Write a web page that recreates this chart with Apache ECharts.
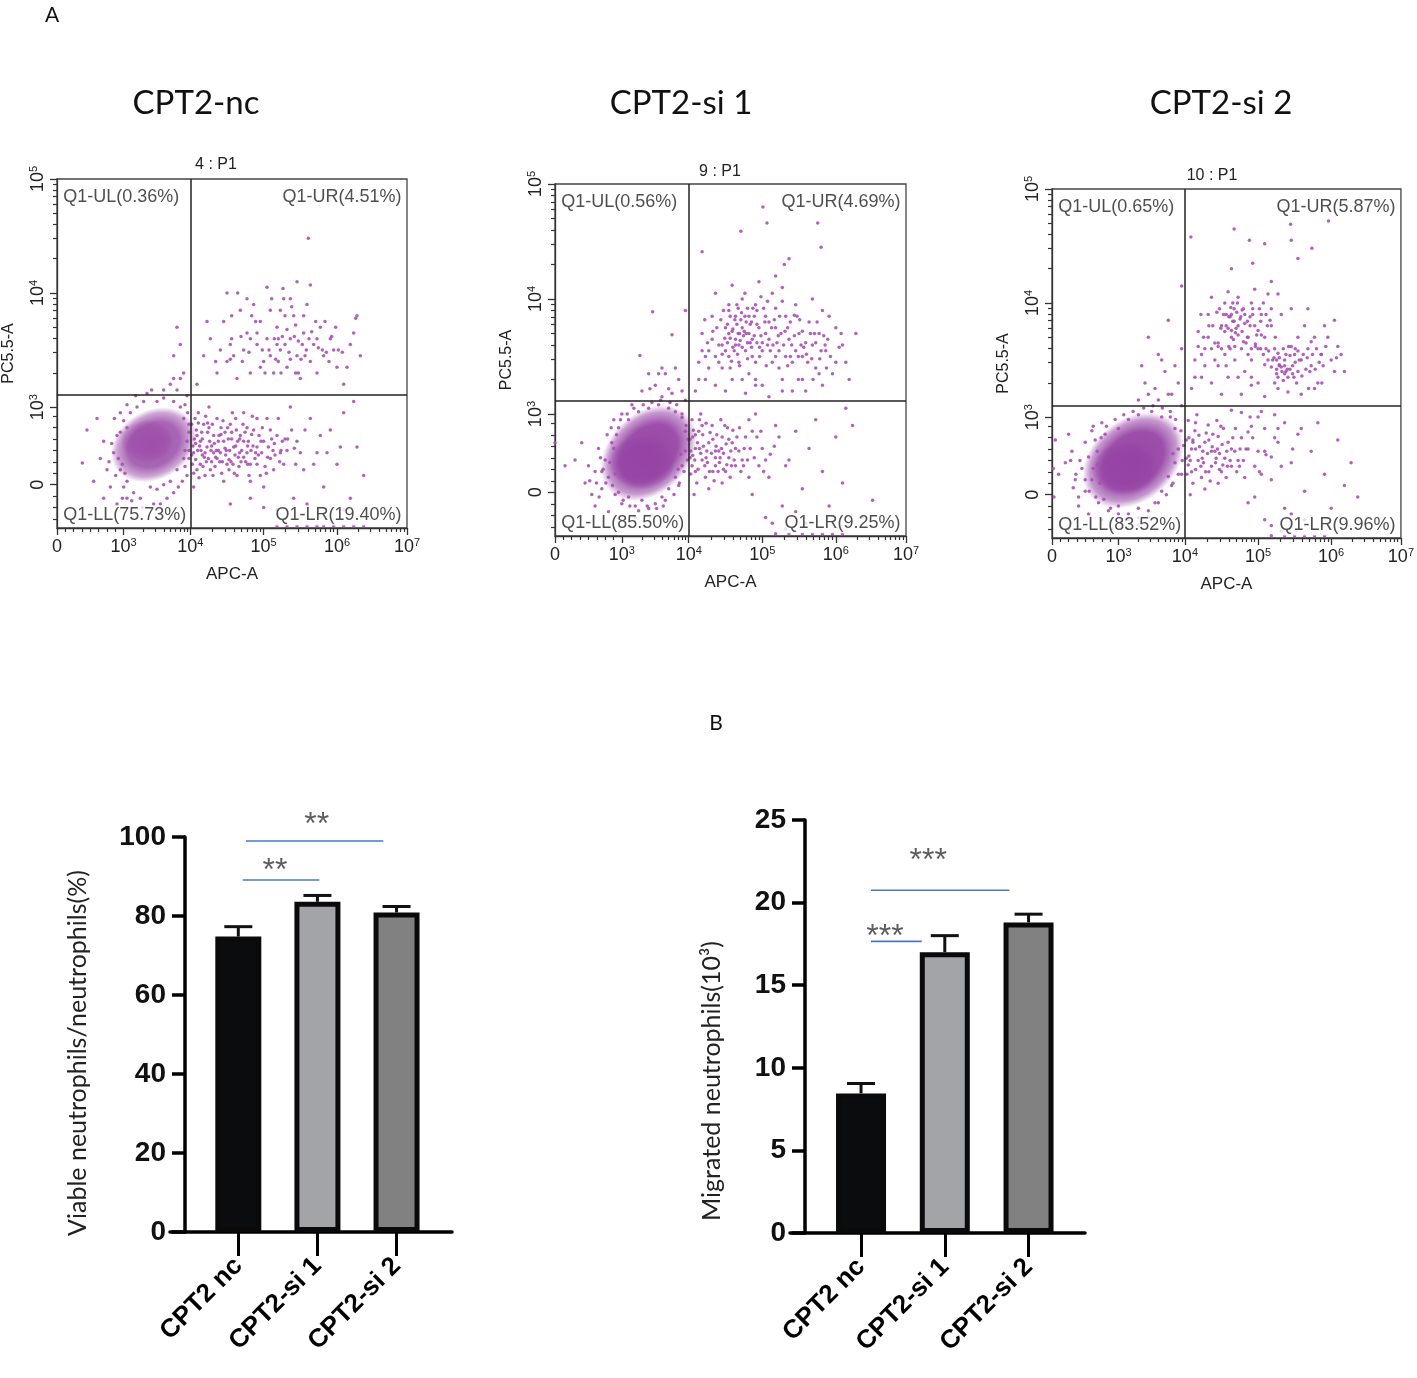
<!DOCTYPE html>
<html><head><meta charset="utf-8">
<script src="https://cdn.jsdelivr.net/npm/echarts@6/dist/echarts.min.js"></script>
<style>html,body{margin:0;padding:0;background:#fff}#c{width:1417px;height:1378px}</style>
</head><body><div id="c"></div>
<script>
// ---------- Panel A : flow cytometry (display units: x 2=0, 3=10^3, 4=10^4, 5.1=10^5, 6.2=10^6, 7.25=10^7 ; y 2.32=0, 3=10^3, 4=10^4, 5=10^5)
const panelTitles = ['CPT2-nc', 'CPT2-si 1', 'CPT2-si 2'];
const gateTitles = ['4 : P1', '9 : P1', '10 : P1'];
const quadTexts = [
  ['Q1-UL(0.36%)', 'Q1-UR(4.51%)', 'Q1-LL(75.73%)', 'Q1-LR(19.40%)'],
  ['Q1-UL(0.56%)', 'Q1-UR(4.69%)', 'Q1-LL(85.50%)', 'Q1-LR(9.25%)'],
  ['Q1-UL(0.65%)', 'Q1-UR(5.87%)', 'Q1-LL(83.52%)', 'Q1-LR(9.96%)']
];
const quadX = [4.0, 4.0, 4.0];
const quadY = [3.11, 3.12, 3.10];
const xMajorVals = [2, 3, 4, 5.1, 6.2, 7.25];
const xMajorLabels = ['0', '10{s|3}', '10{s|4}', '10{s|5}', '10{s|6}', '10{s|7}'];
const yMajorVals = [2.32, 3, 4, 5];
const yMajorLabels = ['0', '10{s|3}', '10{s|4}', '10{s|5}'];

// dense event clouds: [centre x, centre y, half-length, half-width (x units), tilt deg, peak opacity]
const p1Blobs = [[3.45, 2.67, 0.68, 0.52, 30, 0.85], [3.35, 2.7, 0.4, 0.32, 0, 0.45]];
const p2Blobs = [[3.4, 2.66, 0.82, 0.6, 45, 0.97], [3.3, 2.58, 0.5, 0.4, 0, 0.6]];
const p3Blobs = [[3.22, 2.62, 0.85, 0.62, 40, 0.97], [3.1, 2.55, 0.5, 0.4, 0, 0.6]];

const p1Pts = [[2.85,2.6],[2.9,2.75],[2.95,2.45],[3.0,2.88],[2.92,2.55],[3.05,2.35],[3.1,2.95],[3.0,2.3],[3.15,2.25],[3.2,3.0],[3.3,3.05],[3.4,2.3],[3.5,2.28],[3.6,2.32],[3.7,2.35],[3.8,2.45],[3.9,2.55],[3.95,2.7],[3.9,2.9],[3.85,3.0],[3.75,3.05],[3.6,3.08],[3.95,2.4],[4.05,2.6],[4.1,2.75],[4.15,2.5],[4.2,2.85],[4.25,2.65],[4.3,2.45],[4.35,2.75],[4.4,2.9],[4.45,2.6],[4.5,2.7],[4.55,2.5],[4.6,2.85],[4.65,2.65],[4.7,2.4],[4.75,2.75],[4.8,2.95],[4.85,2.6],[4.9,2.5],[4.95,2.8],[5.0,2.65],[5.05,2.4],[5.1,2.7],[5.15,2.9],[5.2,2.55],[5.25,2.45],[5.3,2.75],[5.35,2.6],[4.12,2.95],[4.28,3.0],[4.5,2.35],[4.68,2.9],[4.9,2.35],[5.1,2.3],[5.4,2.5],[4.05,2.3],[4.22,2.4],[4.4,2.55],[4.58,2.45],[4.8,2.7],[5.0,2.9],[4.15,2.7],[4.35,2.6],[4.62,2.72],[4.85,2.82],[5.2,2.8],[3.05,2.2],[3.25,2.2],[3.45,2.15],[3.65,2.2],[2.75,2.45],[2.7,2.7],[2.8,2.3],[3.6,3.15],[3.8,3.15],[3.95,3.1],[4.08,2.68],[4.18,2.58],[4.26,2.78],[4.32,2.52],[4.46,2.82],[4.54,2.62],[4.72,2.56],[4.02,2.85],[4.1,2.45],[3.98,2.55],
[4.1,3.2],[4.2,3.45],[4.3,3.6],[4.4,3.3],[4.5,3.75],[4.55,3.4],[4.6,3.55],[4.7,3.25],[4.75,3.85],[4.8,3.5],[4.85,3.65],[4.9,3.3],[4.95,3.9],[5.0,3.55],[5.05,3.75],[5.1,3.4],[5.15,3.6],[5.2,3.85],[5.25,3.3],[5.3,3.7],[5.35,3.5],[5.4,3.95],[5.45,3.35],[5.5,3.6],[5.55,3.8],[5.6,3.45],[5.65,3.25],[5.7,3.65],[5.75,3.9],[5.8,3.4],[5.85,3.55],[5.9,3.3],[5.95,3.7],[6.0,3.45],[6.1,3.6],[6.2,3.35],[6.3,3.2],[6.4,3.55],[6.5,3.8],[6.55,3.45],[5.15,4.05],[5.6,4.1],[5.77,4.48],[5.8,4.07],[5.39,4.04],[4.71,4.0],[6.48,3.78],[4.55,4.0],[4.85,3.95],[5.5,3.95],[4.25,3.75],[3.85,3.55],[3.9,3.3],[3.75,3.25],[5.3,3.55],[5.45,3.68],[5.62,3.58],
[5.5,3.0],[5.6,2.7],[5.7,2.45],[5.8,2.9],[5.9,2.6],[6.0,2.3],[6.1,2.8],[6.2,2.5],[6.3,2.95],[6.4,2.2],[6.5,2.65],[6.6,2.4],[6.45,3.05],[5.75,2.15],[5.55,2.2],[5.3,2.1],[5.1,2.12],[4.9,2.2],[4.6,2.15],[6.3,2.1],
[5.3,1.96],[5.45,1.96],[5.6,1.96],[5.75,1.96],[5.9,1.96],[6.0,1.96],[6.15,1.96],[6.3,1.96],[6.45,1.96],[6.6,1.96],
[2.65,2.55],[2.55,2.35],[2.45,2.8],[2.38,2.51],[2.6,2.9],[2.7,2.2],[2.9,2.15],[3.75,3.45],[3.8,3.7]];
const p1More = [[4.03,2.5],[4.07,2.9],[4.11,2.62],[4.13,2.38],[4.17,2.78],[4.19,2.48],[4.23,2.92],[4.27,2.55],[4.29,2.7],[4.33,2.85],[4.37,2.48],[4.39,2.62],[4.43,2.75],[4.47,2.42],[4.49,2.88],[4.53,2.58],[4.57,2.72],[4.61,2.52],[4.63,2.95],[4.67,2.58],[4.71,2.7],[4.73,2.48],[4.77,2.62],[4.79,2.85],[4.83,2.52],[4.87,2.7],[4.91,2.62],[4.93,2.92],[4.97,2.55],[5.03,2.75],[5.07,2.6],[5.12,2.48],[5.17,2.65],[5.22,2.72],[5.27,2.58],[5.32,2.9],[5.38,2.7],[5.45,2.62],[5.52,2.8],[5.58,2.5],[4.06,2.72],[4.16,2.62],[4.24,2.52],[4.36,2.68],[4.44,2.52],[4.56,2.82],[4.66,2.42],[4.76,2.52],[4.88,2.4],[5.0,2.5],
[2.88,2.4],[2.82,2.68],[2.95,2.95],[3.05,3.02],[3.12,2.18],[3.28,2.12],[3.55,2.15],[3.75,2.25],[3.88,2.35],[3.98,2.62],[3.98,2.85],[3.92,3.02],[3.5,3.05],[3.35,3.12],[3.7,3.2],[3.85,3.25],[2.98,2.5],[2.95,2.78],[3.92,2.48],[3.96,2.95],[3.02,2.42],[3.05,2.82],
[4.45,3.5],[4.65,3.45],[4.9,3.6],[5.05,3.35],[5.18,3.5],[5.28,3.42],[5.38,3.62],[5.48,3.48],[5.58,3.72],[5.68,3.55],[5.78,3.6],[5.88,3.75],[5.98,3.5],[6.08,3.4],[6.18,3.7],[6.28,3.48],[5.22,3.95],[5.35,3.85],[5.52,3.88],[5.7,3.8],[4.98,3.75],[4.62,3.8]];
const p1Extra = [[4.02,2.58],[4.05,2.42],[4.09,2.8],[4.14,2.66],[4.21,2.56],[4.26,2.86],[4.31,2.62],[4.34,2.4],[4.42,2.7],[4.48,2.52],[4.52,2.78],[4.59,2.62],[4.64,2.5],[4.69,2.8],[4.74,2.6],[4.82,2.78],[4.86,2.5],[4.94,2.66],[5.02,2.58],[5.08,2.82],[5.14,2.42],[5.24,2.62],[5.34,2.52],[5.42,2.72],[5.65,2.6],[5.72,2.8],[5.85,2.5],[5.95,2.75],[6.05,2.6],[6.25,2.65],[4.38,3.4],[4.62,3.6],[4.78,3.4],[4.92,3.8],[5.12,3.3],[5.32,3.6],[5.42,3.8],[5.58,3.3],[5.72,3.45],[5.9,3.6],[6.02,3.75],[6.15,3.5],[6.35,3.35],[6.45,3.65],[2.78,2.52],[2.86,2.9],[2.98,2.2],[3.18,3.1],[3.42,3.15],[3.82,2.3],[3.92,2.62],[3.98,2.78]];
const p1Dense = [[4.04,2.66],[4.08,2.54],[4.12,2.86],[4.18,2.72],[4.22,2.6],[4.28,2.82],[4.32,2.66],[4.38,2.56],[4.42,2.62],[4.46,2.76],[4.52,2.64],[4.58,2.54],[4.62,2.78],[4.68,2.66],[4.74,2.72],[4.8,2.56],[4.86,2.66],[4.92,2.76],[4.98,2.6],[5.06,2.7],[5.16,2.56],[5.26,2.68],[5.36,2.62],[5.46,2.72],[5.56,2.64],
[5.2,3.45],[5.26,3.6],[5.32,3.4],[5.42,3.55],[5.5,3.42],[5.56,3.62],[5.66,3.42],[5.74,3.5],[5.82,3.66],[5.92,3.52],[6.04,3.48],[6.12,3.62],[5.0,3.65],[5.08,3.5],[4.88,3.48],[4.76,3.62],[4.6,3.42],[5.36,3.3],[5.62,3.3],[6.22,3.5]];

const p2Pts = [[2.8,2.45],[2.75,2.6],[2.85,2.75],[2.7,2.35],[2.9,2.3],[3.0,2.22],[3.1,2.28],[3.2,2.2],[3.3,2.25],[3.4,2.18],[3.5,2.22],[3.45,2.12],[3.6,2.28],[3.7,2.35],[3.8,2.45],[3.9,2.55],[3.95,2.68],[3.95,2.85],[3.9,2.97],[3.8,3.02],[3.7,3.05],[3.55,3.08],[3.4,3.05],[3.25,3.02],[3.1,2.95],[2.95,2.88],[3.0,3.0],[2.6,2.5],[2.65,2.7],[2.55,2.3],[2.6,2.2],[2.8,2.15],[3.2,2.1],[3.6,3.15],[3.75,3.18],[3.5,3.25],[3.85,3.3],[3.95,3.12],[3.65,3.35],[3.3,3.2],[2.72,2.52],[2.78,2.82],[3.85,2.38],[3.62,2.2],[2.88,2.95],[3.15,3.08],
[4.05,2.55],[4.1,2.7],[4.15,2.85],[4.2,2.6],[4.25,2.45],[4.3,2.75],[4.35,2.9],[4.4,2.55],[4.45,2.68],[4.5,2.8],[4.55,2.5],[4.6,2.62],[4.65,2.75],[4.05,2.95],[4.12,2.4],[4.28,2.58],[4.38,2.42],[4.48,2.95],[4.58,2.88],[4.7,2.55],[4.75,2.68],[4.18,3.0],[4.08,2.3],[4.3,2.35],[4.5,2.4],[4.02,2.78],[4.22,2.72],[4.42,2.82],[4.62,2.45],[4.8,2.6],[4.85,2.8],[4.9,2.45],[4.06,2.64],[4.14,2.52],[4.2,2.9],[4.34,2.66],[4.44,2.5],[4.52,2.66],[4.66,2.86],[4.1,2.82],
[4.1,3.2],[4.15,3.45],[4.2,3.7],[4.25,3.3],[4.3,3.55],[4.35,3.85],[4.4,3.25],[4.45,3.6],[4.5,3.4],[4.55,3.75],[4.6,3.95],[4.6,3.5],[4.65,3.3],[4.7,3.65],[4.7,3.85],[4.75,3.45],[4.8,3.75],[4.8,4.0],[4.85,3.55],[4.9,3.35],[4.9,3.85],[4.95,3.65],[5.0,3.45],[5.0,3.95],[5.05,3.75],[5.1,3.55],[5.1,3.25],[5.15,3.85],[5.2,3.65],[5.25,3.45],[5.25,4.05],[5.3,3.75],[5.35,3.55],[5.4,3.3],[5.45,3.85],[5.5,3.65],[5.55,3.45],[5.6,3.95],[5.65,3.7],[5.7,3.5],[5.75,3.2],[5.8,3.8],[5.85,3.6],[5.9,3.4],[5.95,3.7],[6.0,3.25],[6.05,3.55],[6.1,3.85],[6.2,3.45],[6.3,3.6],[6.4,3.3],[6.5,3.7],[4.55,3.2],[4.85,3.18],[5.2,3.15],[5.55,3.2],[4.4,4.05],[4.65,4.12],[5.05,4.15],[5.4,4.1],[5.85,4.0],[4.75,3.6],[4.95,3.5],[5.15,3.7],[4.65,3.72],[4.88,3.92],[5.3,3.92],[5.6,3.55],[4.78,3.82],[4.72,3.78],[4.82,3.68],[4.92,3.78],[5.02,3.62],[4.58,3.62],[5.45,3.5],[5.75,3.62],[6.0,3.9],[6.2,3.75],
[5.11,4.8],[5.17,4.66],[5.93,4.66],[5.98,4.45],[4.2,4.41],[4.78,4.59],[5.43,4.3],[5.5,4.35],[5.3,4.2],
[5.0,3.0],[5.1,2.7],[5.2,2.45],[5.3,2.9],[5.4,2.2],[5.5,2.6],[5.6,2.85],[5.7,2.35],[5.8,2.7],[5.9,2.95],[6.0,2.5],[6.1,2.2],[6.2,2.8],[6.3,2.4],[6.6,2.1],[6.75,2.25],[4.95,2.3],[5.15,2.1],[5.25,2.05],[5.45,2.0],[5.6,2.15],[5.75,2.05],[6.35,3.05],[6.45,2.9],[4.9,2.95],[5.05,2.55],
[5.3,1.96],[5.5,1.96],[5.7,1.96],[5.85,1.96],[6.0,1.96],[6.15,1.96],[6.3,1.96],
[2.3,2.6],[2.15,2.55],[2.45,2.4],[2.4,2.75],[2.0,2.75],[3.46,3.89],[3.27,3.51],[3.75,3.69],[3.95,3.9],[3.6,3.4],[3.4,3.35]];
const p2More = [[2.7,2.5],[2.76,2.4],[2.82,2.58],[2.86,2.38],[2.88,2.7],[2.9,2.48],[2.92,2.82],[2.95,2.32],[2.98,2.95],[3.02,2.25],[3.08,3.0],[3.12,2.2],[3.18,3.05],[3.25,2.16],[3.32,3.08],[3.38,2.2],[3.45,3.1],[3.52,2.18],[3.58,3.12],[3.65,2.25],[3.72,3.1],[3.78,2.3],[3.82,3.08],[3.86,2.4],[3.9,3.0],[3.93,2.5],[3.96,2.9],[3.98,2.6],[3.99,2.78],[3.88,2.65],[3.84,2.52],[2.84,2.88],[2.68,2.62],[2.62,2.4],[2.66,2.28],[2.5,2.55],[2.52,2.42],[3.7,3.22],[3.42,3.22],[3.9,3.2],[3.8,3.4],[3.55,3.35],
[4.03,2.48],[4.09,2.6],[4.13,2.75],[4.16,2.95],[4.24,2.55],[4.27,2.68],[4.32,2.84],[4.36,2.5],[4.41,2.72],[4.46,2.58],[4.49,2.7],[4.54,2.9],[4.57,2.56],[4.63,2.68],[4.68,2.6],[4.72,2.8],[4.78,2.5],[4.83,2.7],[4.88,2.6],[4.95,2.85],[4.03,2.68],[4.07,2.86],[4.18,2.66],[4.26,2.92],[4.4,2.62],[4.6,2.78],[4.98,2.62],[5.08,2.85],[5.15,2.6],[5.28,2.72],
[4.5,3.6],[4.62,3.85],[4.68,3.55],[4.74,3.92],[4.86,3.7],[4.92,3.62],[4.98,3.85],[5.08,3.68],[5.12,3.92],[5.22,3.55],[5.28,3.82],[5.38,3.7],[5.48,3.75],[5.52,3.5],[5.62,3.85],[5.68,3.6],[5.78,3.45],[5.88,3.7],[5.98,3.55],[6.08,3.65],[6.15,3.35],[6.25,3.58],[4.3,3.4],[4.42,3.75],[4.52,3.9],[5.0,3.3],[5.35,3.4],[5.7,3.3],[5.95,3.35],[6.35,3.45],[4.8,3.3],[5.18,3.98],[4.25,3.5],[4.15,3.3]];
const p2Extra = [[4.55,3.55],[4.6,3.7],[4.66,3.58],[4.72,3.95],[4.76,3.7],[4.84,3.85],[4.88,3.62],[4.94,3.8],[5.02,3.9],[5.06,3.58],[5.14,3.8],[5.18,3.6],[5.24,3.75],[5.32,3.62],[5.36,3.85],[5.42,3.6],[5.52,3.8],[5.58,3.68],[5.66,3.82],[5.72,3.58],[5.82,3.7],[5.92,3.8],[6.02,3.68],[6.12,3.5],[6.28,3.7],[4.35,3.65],[4.45,3.45],[4.62,3.4],[5.0,3.25],[5.4,3.2],[5.64,3.3],[5.86,3.3],[6.06,3.4],
[4.02,2.62],[4.06,2.8],[4.1,2.5],[4.16,2.7],[4.21,2.82],[4.26,2.62],[4.31,2.5],[4.36,2.78],[4.4,2.68],[4.47,2.62],[4.52,2.52],[4.56,2.74],[4.64,2.55],[4.7,2.7],[4.76,2.88],[4.82,2.55],[4.92,2.7],[5.02,2.8],[5.12,2.5],[5.22,2.65],[5.35,2.8],[5.45,2.55]];
const p2Dense = [[4.62,3.66],[4.66,3.74],[4.7,3.6],[4.74,3.7],[4.77,3.64],[4.8,3.58],[4.83,3.72],[4.86,3.8],[4.69,3.82],[4.73,3.52],[4.79,3.88],[4.9,3.7],[4.94,3.58],[4.98,3.68],[5.02,3.78],[5.06,3.5],[4.58,3.78],[4.54,3.66],[4.5,3.52],[4.48,3.82],[4.64,3.46],[4.76,3.42],[4.88,3.48],[5.1,3.62],[5.16,3.42],[5.2,3.8],[5.26,3.6],[5.3,3.5],[5.34,3.68],[5.44,3.72],[5.48,3.42],[5.54,3.6],[5.58,3.86],[5.64,3.5],[5.7,3.72],[5.76,3.52],[5.84,3.48],[5.9,3.62],[5.96,3.48],[6.04,3.6],[4.4,3.5],[4.36,3.72],[4.28,3.62],[4.24,3.82],[4.2,3.55],[4.96,3.92],[5.08,4.02],[4.84,4.05],[4.6,3.9],[5.4,3.98]];

const p3Pts = [[2.6,2.45],[2.55,2.65],[2.65,2.8],[2.5,2.35],[2.7,2.25],[2.85,2.18],[3.0,2.22],[3.15,2.15],[3.3,2.2],[3.45,2.12],[3.55,2.25],[3.65,2.35],[3.75,2.48],[3.85,2.6],[3.9,2.72],[3.85,2.9],[3.78,3.0],[3.65,3.0],[3.5,3.05],[3.3,3.02],[3.15,2.98],[3.0,2.9],[2.8,2.85],[2.45,2.55],[2.4,2.3],[2.35,2.45],[2.3,2.7],[2.55,2.15],[2.75,2.1],[3.05,2.08],[3.6,3.15],[3.75,3.2],[3.45,3.2],[3.9,3.3],[3.95,3.1],[3.7,3.4],[3.3,3.15],[2.2,2.6],[2.1,2.5],[2.25,2.85],[2.9,2.02],[3.3,2.05],[2.68,2.58],[2.62,2.92],[3.8,2.4],[3.95,2.5],[2.5,2.78],[2.75,2.95],
[4.05,2.58],[4.1,2.72],[4.15,2.88],[4.2,2.62],[4.25,2.47],[4.3,2.78],[4.35,2.93],[4.4,2.57],[4.45,2.7],[4.5,2.83],[4.55,2.52],[4.6,2.64],[4.65,2.78],[4.05,2.97],[4.12,2.42],[4.28,2.6],[4.38,2.44],[4.48,2.97],[4.58,2.9],[4.7,2.57],[4.75,2.7],[4.18,3.02],[4.08,2.32],[4.3,2.37],[4.5,2.42],[4.02,2.8],[4.22,2.74],[4.42,2.85],[4.62,2.47],[4.8,2.62],[4.85,2.82],[4.9,2.47],[4.95,2.72],[5.0,2.92],[5.05,2.57],[4.85,3.04],[4.7,3.06],[4.06,2.66],[4.16,2.54],[4.34,2.68],[4.52,2.68],[4.12,2.8],
[4.1,3.25],[4.15,3.5],[4.2,3.75],[4.25,3.35],[4.3,3.6],[4.35,3.9],[4.4,3.3],[4.45,3.65],[4.5,3.45],[4.55,3.8],[4.6,4.0],[4.6,3.55],[4.65,3.35],[4.7,3.7],[4.7,3.9],[4.75,3.5],[4.8,3.8],[4.8,4.05],[4.85,3.6],[4.9,3.4],[4.9,3.9],[4.95,3.7],[5.0,3.5],[5.0,4.0],[5.05,3.8],[5.1,3.6],[5.1,3.3],[5.15,3.9],[5.2,3.7],[5.25,3.5],[5.25,4.08],[5.3,3.8],[5.35,3.6],[5.4,3.35],[5.45,3.9],[5.5,3.45],[5.55,3.35],[5.6,3.95],[5.65,3.55],[5.7,3.4],[5.75,3.2],[5.8,3.8],[5.85,3.6],[5.9,3.45],[5.95,3.7],[6.0,3.3],[6.05,3.55],[6.1,3.8],[6.2,3.5],[6.3,3.62],[6.4,3.4],[4.55,3.2],[4.85,3.2],[5.2,3.18],[5.55,3.22],[4.4,4.05],[4.65,4.1],[5.05,4.12],[5.4,4.08],[5.85,3.95],[4.75,3.62],[4.95,3.55],[5.15,3.72],[4.65,3.78],[4.88,3.95],[5.3,3.95],[5.45,3.44],[5.42,3.52],[5.5,3.38],[5.38,3.42],[4.72,3.84],[4.68,3.88],[4.78,3.92],[5.6,3.62],[5.75,3.5],[6.25,3.85],
[4.09,4.58],[4.74,4.65],[4.97,4.55],[5.2,4.52],[5.6,4.55],[5.7,4.39],[5.91,4.48],[6.16,4.72],[5.59,4.69],[5.02,4.35],[5.3,4.19],[4.7,4.3],
[5.1,3.0],[5.2,2.7],[5.3,2.45],[5.4,2.9],[5.5,2.2],[5.6,2.6],[5.7,2.85],[5.8,2.35],[5.9,2.7],[6.0,2.95],[6.1,2.5],[6.2,2.2],[6.3,2.8],[6.4,2.4],[6.6,2.3],[5.05,2.3],[5.2,2.1],[5.3,2.05],[5.45,2.0],[5.6,2.15],[5.8,2.1],[6.5,2.6],[4.95,2.25],[5.15,2.5],
[5.3,1.96],[5.5,1.96],[5.65,1.96],[5.8,1.96],[5.95,1.96],[6.1,1.96],
[2.02,2.55],[2.05,2.8],[2.03,2.3],[3.45,3.7],[3.6,3.55],[3.75,3.85],[3.95,4.15],[3.35,3.45]];
const p3More = [[2.5,2.45],[2.56,2.35],[2.62,2.55],[2.66,2.3],[2.68,2.7],[2.72,2.42],[2.74,2.82],[2.78,2.28],[2.82,2.92],[2.88,2.2],[2.95,2.98],[3.0,2.15],[3.08,3.02],[3.15,2.1],[3.22,3.05],[3.3,2.12],[3.38,3.08],[3.45,2.18],[3.52,3.1],[3.6,2.25],[3.66,3.08],[3.72,2.32],[3.78,3.05],[3.82,2.42],[3.86,2.98],[3.9,2.5],[3.94,2.88],[3.96,2.62],[3.98,2.75],[3.82,2.68],[2.42,2.62],[2.36,2.5],[2.32,2.38],[2.4,2.22],[2.28,2.62],[2.6,2.88],[3.55,3.25],[3.8,3.2],[3.4,3.3],[3.65,3.5],[3.85,3.45],[3.95,3.6],
[4.03,2.5],[4.08,2.62],[4.12,2.78],[4.16,2.95],[4.24,2.57],[4.27,2.7],[4.32,2.86],[4.36,2.52],[4.41,2.74],[4.46,2.6],[4.49,2.72],[4.54,2.92],[4.57,2.58],[4.63,2.7],[4.68,2.62],[4.72,2.82],[4.78,2.52],[4.83,2.72],[4.88,2.62],[4.95,2.87],[5.1,2.7],[5.2,2.9],[5.3,2.65],[5.4,2.78],[5.5,2.95],[5.62,2.72],[5.75,2.9],[4.98,3.0],[5.15,3.05],[5.35,3.02],
[4.5,3.65],[4.62,3.9],[4.68,3.6],[4.74,3.95],[4.86,3.75],[4.92,3.65],[4.98,3.88],[5.08,3.72],[5.12,3.95],[5.22,3.6],[5.28,3.85],[5.38,3.5],[5.48,3.6],[5.52,3.4],[5.62,3.45],[5.68,3.3],[5.78,3.55],[5.88,3.4],[5.98,3.6],[6.08,3.45],[6.15,3.7],[6.25,3.4],[4.3,3.45],[4.42,3.8],[4.52,3.95],[5.0,3.35],[5.35,3.3],[5.7,3.7],[5.95,3.25],[6.35,3.55],[4.8,3.35],[5.18,4.0],[4.25,3.55],[4.15,3.35]];
const p3Extra = [[4.55,3.6],[4.6,3.75],[4.66,3.62],[4.72,4.0],[4.76,3.74],[4.84,3.88],[4.88,3.66],[4.94,3.84],[5.02,3.95],[5.06,3.62],[5.14,3.84],[5.18,3.55],[5.24,3.8],[5.32,3.5],[5.36,3.7],[5.42,3.45],[5.52,3.55],[5.58,3.42],[5.66,3.6],[5.72,3.5],[5.82,3.42],[5.92,3.55],[6.02,3.48],[6.12,3.62],[6.28,3.52],[4.35,3.7],[4.45,3.5],[4.62,3.45],[5.0,3.28],[5.4,3.25],[5.64,3.35],[5.86,3.25],[6.06,3.3],
[4.02,2.64],[4.06,2.82],[4.1,2.52],[4.16,2.72],[4.21,2.84],[4.26,2.64],[4.31,2.52],[4.36,2.8],[4.4,2.7],[4.47,2.64],[4.52,2.54],[4.56,2.76],[4.64,2.57],[4.7,2.72],[4.76,2.9],[4.82,2.57],[4.92,2.72],[5.02,2.82],[5.12,2.52],[5.22,2.67],[5.35,2.82],[5.45,2.57]];
const p3Dense = [[4.62,3.8],[4.66,3.88],[4.7,3.76],[4.74,3.84],[4.77,3.78],[4.8,3.72],[4.83,3.86],[4.86,3.94],[4.69,3.96],[4.73,3.68],[4.79,4.0],[4.9,3.82],[4.94,3.7],[4.98,3.8],[5.02,3.9],[5.06,3.64],[4.58,3.9],[4.54,3.78],[4.5,3.62],[4.48,3.92],[5.3,3.44],[5.34,3.52],[5.38,3.38],[5.42,3.46],[5.46,3.4],[5.5,3.5],[5.54,3.42],[5.58,3.54],[5.62,3.38],[5.66,3.48],[5.4,3.56],[5.48,3.32],[5.56,3.62],[5.26,3.58],[5.2,3.46],[5.7,3.58],[5.76,3.36],[5.84,3.52],[5.9,3.66],[5.96,3.42],[4.4,3.6],[4.36,3.8],[4.28,3.7],[4.24,3.9],[4.2,3.62],[5.1,3.76],[5.14,3.6],[5.0,3.6],[5.22,3.9],[6.05,3.55]];

// ---------- Panel B : bar charts
const barCats = ['CPT2 nc', 'CPT2-si 1', 'CPT2-si 2'];
const viableMean = [74.8, 83.6, 80.9];
const viableErr = [2.5, 1.6, 1.5];
const migratedMean = [8.45, 17.0, 18.8];
const migratedErr = [0.6, 1.0, 0.5];
const barFill = ['#0a0c0e', '#a3a4a8', '#808180'];
const viableSig = [[1.097, 2.833, 99.0], [1.056, 2.024, 89.1]];
const viableStars = [[1.991, 103.0, '**'], [1.464, 91.4, '**']];
const migratedSig = [[1.119, 2.77, 20.75], [1.119, 1.725, 17.65]];
const migratedStars = [[1.803, 22.5, '***'], [1.286, 17.9, '***']];
const viableName = 'Viable neutrophils/neutrophils(%)';
const migratedName = 'Migrated neutrophils(10\u00b3)';

// ---------- helpers (axis decoration only)
const xLinearMinor = [2.125, 2.25, 2.375, 2.5, 2.625, 2.75, 2.875];
const yLinearMinor = [2.02, 2.12, 2.22, 2.42, 2.52, 2.62, 2.72, 2.82, 2.92];
const xDecades = [[3, 1], [4, 1.1], [5.1, 1.1], [6.2, 1.05]];
const yDecades = [[3, 1], [4, 1]];
function logMinors(dec) { const out = []; dec.forEach(([a, w]) => { for (let k = 2; k <= 9; k++) out.push(a + w * Math.log10(k)); }); return out; }
const xMinor = xLinearMinor.concat(logMinors(xDecades));
const yMinor = yLinearMinor.concat(logMinors(yDecades));
function fmt(vals, labels) { return v => { const i = vals.findIndex(t => Math.abs(t - v) < 1e-6); return i >= 0 ? labels[i] : ''; }; }

const AX = '#333';
const FF = '"Liberation Sans", Arial, sans-serif';
const PT = '#a84fb4';
const richSup = { s: { fontSize: 11, verticalAlign: 'top', lineHeight: 10, fontFamily: FF, color: '#222' } };
const scatterGrids = [
  { left: 56, top: 179, width: 351, height: 349 },
  { left: 555, top: 184, width: 351, height: 352 },
  { left: 1052, top: 189, width: 351, height: 349 }
];
const blobSets = [p1Blobs, p2Blobs, p3Blobs];
const ptSets = [p1Pts.concat(p1More, p1Extra, p1Dense), p2Pts.concat(p2More, p2Extra, p2Dense), p3Pts.concat(p3More, p3Extra, p3Dense)];
const gateX = [216, 720, 1212], gateY = [165, 172, 176];
const titleX = [196, 681, 1221];

function blobRender(params, api) {
  const c = api.coord([api.value(0), api.value(1)]);
  const a = api.size([api.value(2), 0])[0], b = api.size([api.value(3), 0])[0];
  const op = api.value(5);
  const col = o => 'rgba(148,64,163,' + o + ')';
  return { type: 'circle', x: c[0], y: c[1], rotation: api.value(4) * Math.PI / 180, scaleX: 1, scaleY: b / a,
    shape: { cx: 0, cy: 0, r: a },
    style: { fill: new echarts.graphic.RadialGradient(0.5, 0.5, 0.5, [
      { offset: 0, color: col(op) }, { offset: 0.6, color: col(op * 0.95) }, { offset: 0.85, color: col(op * 0.55) }, { offset: 1, color: col(0) }]) } };
}

const grid = [], xAxis = [], yAxis = [], series = [], graphic = [];
scatterGrids.forEach((g, i) => {
  grid.push(Object.assign({ show: true, borderColor: '#444', borderWidth: 1.3, backgroundColor: 'transparent' }, g));
  xAxis.push({ gridIndex: i, type: 'value', min: 2, max: 7.25, position: 'bottom',
    axisLine: { onZero: false, lineStyle: { color: AX, width: 1.3 } },
    axisTick: { customValues: xMajorVals, length: 7, lineStyle: { color: AX, width: 1.3 } },
    axisLabel: { customValues: xMajorVals, formatter: fmt(xMajorVals, xMajorLabels), fontSize: 18, color: '#222', fontFamily: FF, margin: 9, lineHeight: 20, rich: richSup },
    splitLine: { show: false }, name: 'APC-A', nameLocation: 'middle', nameGap: 38,
    nameTextStyle: { fontSize: 17, color: '#222', fontFamily: FF } });
  xAxis.push({ gridIndex: i, type: 'value', min: 2, max: 7.25, position: 'bottom',
    axisLine: { show: false }, axisTick: { customValues: xMinor, length: 4, lineStyle: { color: AX, width: 1.2 } },
    axisLabel: { show: false }, splitLine: { show: false } });
  yAxis.push({ gridIndex: i, type: 'value', min: 1.94, max: 5, position: 'left',
    axisLine: { onZero: false, lineStyle: { color: AX, width: 1.3 } },
    axisTick: { customValues: yMajorVals, length: 7, lineStyle: { color: AX, width: 1.3 } },
    axisLabel: { customValues: yMajorVals, formatter: fmt(yMajorVals, yMajorLabels), rotate: 90, fontSize: 18, color: '#222', fontFamily: FF, margin: 9, lineHeight: 20, rich: richSup },
    splitLine: { show: false }, name: 'PC5.5-A', nameLocation: 'middle', nameGap: 40, nameRotate: 90,
    nameTextStyle: { fontSize: 16, color: '#222', fontFamily: FF } });
  yAxis.push({ gridIndex: i, type: 'value', min: 1.94, max: 5, position: 'left',
    axisLine: { show: false }, axisTick: { customValues: yMinor, length: 4, lineStyle: { color: AX, width: 1.2 } },
    axisLabel: { show: false }, splitLine: { show: false } });
  series.push({ type: 'custom', xAxisIndex: 2 * i, yAxisIndex: 2 * i, renderItem: blobRender, data: blobSets[i], silent: true, z: 2 });
  series.push({ type: 'scatter', xAxisIndex: 2 * i, yAxisIndex: 2 * i, data: ptSets[i], symbolSize: 3.5,
    itemStyle: { color: PT, opacity: 0.9 }, silent: true, z: 3,
    markLine: { silent: true, symbol: ['none', 'none'], label: { show: false },
      lineStyle: { color: '#222', width: 1.5, type: 'solid' },
      data: [{ yAxis: quadY[i] }, { xAxis: quadX[i] }] } });
  const q = quadTexts[i];
  const qd = [
    { value: [2.07, 4.84], label: { position: 'right', formatter: q[0] } },
    { value: [7.19, 4.84], label: { position: 'left', formatter: q[1] } },
    { value: [2.07, 2.05], label: { position: 'right', formatter: q[2], backgroundColor: '#fff' } },
    { value: [7.19, 2.05], label: { position: 'left', formatter: q[3], backgroundColor: '#fff' } }
  ];
  series.push({ type: 'scatter', xAxisIndex: 2 * i, yAxisIndex: 2 * i, data: qd, symbolSize: 1, silent: true, z: 5,
    itemStyle: { color: 'transparent' },
    label: { show: true, distance: 0, fontSize: 18, color: '#222', fontFamily: FF, padding: [1, 1] } });
  graphic.push({ type: 'text', x: gateX[i], y: gateY[i], style: { text: gateTitles[i], align: 'center', verticalAlign: 'middle', font: '16px ' + FF, fill: '#222' } });
  graphic.push({ type: 'text', x: titleX[i], y: 103, style: { text: panelTitles[i], align: 'center', verticalAlign: 'middle', font: '33px Lato, "Open Sans", sans-serif', fill: '#111' } });
});
graphic.push({ type: 'text', x: 52, y: 15, style: { text: 'A', align: 'center', verticalAlign: 'middle', font: '21px Lato, sans-serif', fill: '#111' } });
graphic.push({ type: 'text', x: 716, y: 723, style: { text: 'B', align: 'center', verticalAlign: 'middle', font: '21px Lato, sans-serif', fill: '#111' } });
graphic.push({ type: 'text', x: 78, y: 1053, rotation: Math.PI / 2, style: { text: viableName, align: 'center', verticalAlign: 'middle', font: '25px Lato, sans-serif', fill: '#222' } });
graphic.push({ type: 'text', x: 712, y: 1081, rotation: Math.PI / 2, style: { text: migratedName, align: 'center', verticalAlign: 'middle', font: '25px Lato, sans-serif', fill: '#222' } });

// bar charts
const barGrids = [
  { left: 170, top: 837, width: 282, height: 395, xmin: 0.1365, xmax: 3.701, ymax: 100, step: 20,
    mean: viableMean, err: viableErr, sig: viableSig, stars: viableStars, bw: 46 },
  { left: 790, top: 820, width: 295, height: 413, xmin: 0.152, xmax: 3.674, ymax: 25, step: 5,
    mean: migratedMean, err: migratedErr, sig: migratedSig, stars: migratedStars, bw: 50 }
];
function errRender(params, api) {
  const x = api.value(0), y = api.value(1), e = api.value(2);
  const b = api.coord([x, y]), t = api.coord([x, y + e]);
  return { type: 'group', children: [
    { type: 'line', shape: { x1: b[0], y1: b[1], x2: t[0], y2: t[1] }, style: { stroke: '#111', lineWidth: 3 } },
    { type: 'line', shape: { x1: t[0] - 14, y1: t[1], x2: t[0] + 14, y2: t[1] }, style: { stroke: '#111', lineWidth: 3 } }
  ] };
}
function sigRender(params, api) {
  const a = api.coord([api.value(0), api.value(2)]), b = api.coord([api.value(1), api.value(2)]);
  return { type: 'line', shape: { x1: a[0], y1: a[1], x2: b[0], y2: b[1] }, style: { stroke: '#4a78c8', lineWidth: 1.6 } };
}
barGrids.forEach((g, j) => {
  const gi = 3 + j, ai = 6 + j;
  grid.push({ left: g.left, top: g.top, width: g.width, height: g.height, containLabel: false });
  xAxis.push({ gridIndex: gi, type: 'value', min: g.xmin, max: g.xmax,
    axisLine: { onZero: false, lineStyle: { color: '#000', width: 3.5 } },
    axisTick: { customValues: [1, 2, 3], length: 24, lineStyle: { color: '#000', width: 3 } },
    axisLabel: { customValues: [1, 2, 3], formatter: v => barCats[Math.round(v) - 1], rotate: 45, fontSize: 26, fontWeight: 'bold', color: '#000', fontFamily: FF, margin: 30 },
    splitLine: { show: false } });
  yAxis.push({ gridIndex: gi, type: 'value', min: 0, max: g.ymax, interval: g.step, offset: -15,
    axisLine: { show: true, onZero: false, lineStyle: { color: '#000', width: 3.5 } },
    axisTick: { show: true, length: 13, lineStyle: { color: '#000', width: 3.5 } },
    axisLabel: { fontSize: 28, fontWeight: 'bold', color: '#111', fontFamily: FF, margin: 19 },
    splitLine: { show: false } });
  series.push({ type: 'bar', xAxisIndex: ai, yAxisIndex: ai, barWidth: g.bw, z: 3,
    data: g.mean.map((m, k) => ({ value: [k + 1, m], itemStyle: { color: barFill[k], borderColor: '#0a0a0a', borderWidth: 5 } })) });
  series.push({ type: 'custom', xAxisIndex: ai, yAxisIndex: ai, renderItem: errRender, z: 2,
    data: g.mean.map((m, k) => [k + 1, m, g.err[k]]) });
  series.push({ type: 'custom', xAxisIndex: ai, yAxisIndex: ai, renderItem: sigRender, z: 4, clip: false,
    data: g.sig });
  series.push({ type: 'scatter', xAxisIndex: ai, yAxisIndex: ai, clip: false, symbolSize: 1, z: 5,
    itemStyle: { color: 'transparent' },
    data: g.stars.map(s => [s[0], s[1]]),
    label: { show: true, position: 'inside', formatter: p => g.stars[p.dataIndex][2], fontSize: 32, color: '#333', fontFamily: FF } });
});

const chart = echarts.init(document.getElementById('c'), null, { renderer: 'canvas' });
chart.setOption({ animation: false, backgroundColor: '#fff', grid, xAxis, yAxis, series, graphic });
</script></body></html>
